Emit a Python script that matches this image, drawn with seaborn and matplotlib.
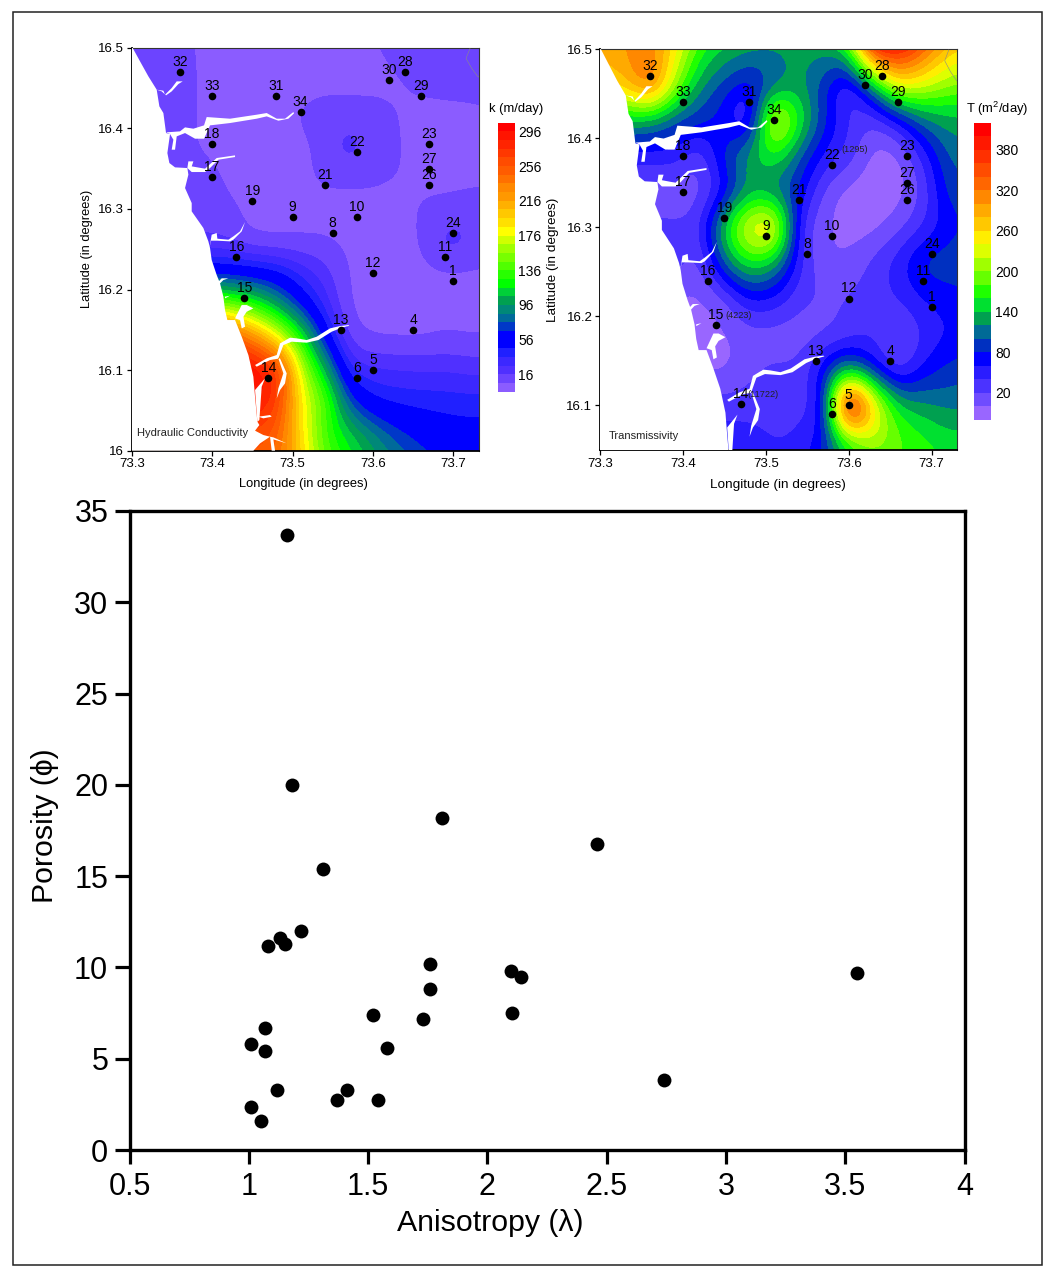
import numpy as np
import pandas as pd
import matplotlib
matplotlib.use("Agg")
import matplotlib.pyplot as plt
from matplotlib.colors import ListedColormap, BoundaryNorm
from matplotlib.patches import Polygon, Rectangle
import seaborn as sns

# bottom panel
anisotropy = [1.16, 1.18, 1.81, 2.46, 1.31, 1.22, 1.13, 1.15, 1.08, 1.76, 2.10, 2.14, 3.55, 1.76,
              2.105, 1.52, 1.73, 1.07, 1.01, 1.07, 1.58, 2.74, 1.12, 1.41, 1.37, 1.54, 1.01, 1.05]
porosity = [33.7, 20.0, 18.2, 16.75, 15.4, 12.0, 11.6, 11.3, 11.15, 10.2, 9.8, 9.5, 9.7, 8.8,
            7.5, 7.4, 7.2, 6.7, 5.8, 5.4, 5.6, 3.85, 3.3, 3.3, 2.75, 2.75, 2.35, 1.6]

# wells
well_id = [32, 33, 31, 34, 30, 28, 29, 23, 22, 18, 27, 26, 17, 21, 19, 9, 10, 8, 24, 16, 11, 12, 1, 15, 13, 4, 5, 6, 14]
well_lon = [73.36, 73.40, 73.48, 73.51, 73.62, 73.64, 73.66, 73.67, 73.58, 73.40, 73.67, 73.67, 73.40, 73.54, 73.45,
            73.50, 73.58, 73.55, 73.70, 73.43, 73.69, 73.60, 73.70, 73.44, 73.56, 73.65, 73.60, 73.58, 73.47]
well_lat = [16.47, 16.44, 16.44, 16.42, 16.46, 16.47, 16.44, 16.38, 16.37, 16.38, 16.35, 16.33, 16.34, 16.33, 16.31,
            16.29, 16.29, 16.27, 16.27, 16.24, 16.24, 16.22, 16.21, 16.19, 16.15, 16.15, 16.10, 16.09, 16.09]
well_lat_T = [16.102 if w == 14 else y for w, y in zip(well_id, well_lat)]

# values, on a coarse lon/lat grid
grid_lon = [73.30, 73.33, 73.36, 73.39, 73.42, 73.45, 73.48, 73.51, 73.54, 73.57, 73.60, 73.63, 73.66, 73.69, 73.72, 73.75]
k_lat = [16.50, 16.46, 16.42, 16.38, 16.34, 16.30, 16.26, 16.22, 16.18, 16.14, 16.10, 16.06, 16.02, 15.98]
k_rows = [
    [10, 10, 10, 3, 3, 3, 3, 3, 3, 3, 5, 9, 10, 10, 12, 14],
    [10, 10, 10, 4, 3, 3, 3, 3, 4, 4, 4, 5, 8, 9, 10, 11],
    [10, 10, 10, 4, 3, 3, 3, 6.5, 8, 8.5, 8, 6, 4, 4, 4, 5],
    [10, 10, 10, 4, 3, 3, 3, 5, 8, 22, 9, 6.5, 4, 4, 4, 5],
    [10, 10, 10, 10, 4, 3, 3, 4, 7.5, 8, 7.5, 6, 4, 3, 3, 4],
    [12, 12, 12, 12, 8, 4, 3, 3, 3, 3, 3, 3, 6.5, 9, 11, 11],
    [18, 18, 18, 18, 16, 8, 7, 7, 6.5, 4, 3, 3, 6, 20, 16, 9],
    [60, 60, 60, 60, 58, 55, 48, 33, 20, 5, 3, 3, 3, 4, 4, 4],
    [160, 160, 160, 160, 150, 130, 100, 63, 32, 6, 3, 3, 3, 3, 3, 3],
    [270, 270, 270, 270, 260, 230, 185, 125, 58, 14, 6, 5, 5, 7, 6, 6],
    [300, 300, 300, 300, 300, 295, 270, 170, 105, 38, 28, 26, 25, 25, 23, 22],
    [290, 290, 290, 290, 290, 285, 268, 185, 140, 75, 50, 44, 42, 41, 40, 40],
    [262, 262, 262, 262, 262, 262, 250, 190, 135, 110, 88, 70, 60, 54, 52, 52],
    [250, 250, 250, 250, 250, 250, 240, 200, 150, 125, 105, 90, 76, 66, 62, 62],
]
t_lat = [16.50, 16.46, 16.42, 16.38, 16.34, 16.30, 16.26, 16.22, 16.18, 16.14, 16.10, 16.06, 16.02]
t_rows = [
    [280, 300, 310, 250, 175, 145, 130, 125, 130, 135, 180, 390, 400, 340, 280, 260],
    [260, 270, 320, 205, 125, 90, 68, 105, 125, 85, 40, 130, 235, 225, 200, 190],
    [135, 135, 130, 100, 85, 70, 40, 235, 160, 85, 40, 25, 60, 110, 130, 135],
    [50, 50, 50, 50, 25, 85, 130, 160, 100, 55, 30, -6, -3, 45, 100, 115],
    [10, 10, 10, 10, 12, 60, 125, 115, 75, 15, -8, -12, -8, 25, 85, 95],
    [25, 25, 25, 25, 35, 145, 235, 245, 45, 5, -8, -6, 12, 40, 70, 85],
    [30, 30, 30, 30, 15, 100, 155, 130, 45, 5, 5, 25, 50, 85, 90, 95],
    [-3, -3, -3, -3, -3, 15, 60, 55, 25, 20, 22, 30, 40, 60, 70, 75],
    [-5, -5, -5, -5, -5, -2, 10, 10, 10, 15, 30, 38, 12, 42, 60, 65],
    [-2, -2, -2, -2, -2, -4, 15, 25, 25, 70, 130, 75, 30, 65, 85, 95],
    [30, 30, 30, 30, 30, 30, 30, 30, 35, 70, 400, 250, 145, 125, 115, 115],
    [50, 50, 50, 50, 50, 50, 50, 40, 45, 75, 170, 210, 185, 165, 150, 150],
    [50, 50, 50, 50, 50, 50, 50, 50, 60, 90, 150, 165, 170, 170, 165, 165],
]

k_levels = list(range(-4, 307, 10))
t_levels = list(range(-20, 421, 20))
k_ticks = [16, 56, 96, 136, 176, 216, 256, 296]
t_ticks = [20, 80, 140, 200, 260, 320, 380]
k_colors = ["#8B5CFF", "#6C44FF", "#5030FF", "#3C28FF", "#2020FF", "#0000FF", "#0000FF", "#0038C8", "#006A9A",
            "#008878", "#00A050", "#00D038", "#00FF00", "#28FF00", "#50FF00", "#78FF00", "#A0FF00", "#D0FF00",
            "#FFFF00", "#FFE000", "#FFC800", "#FFB000", "#FF9800", "#FF8800", "#FF7000", "#FF5C00", "#FF4C00",
            "#FF3800", "#FF2400", "#FF1400", "#FF0000"]
t_colors = ["#9966FF", "#6F4CFF", "#4B33FF", "#2A1CFF", "#0000FF", "#0030C0", "#006A96", "#00A050", "#00E030",
            "#1FFF00", "#66FF00", "#A0FF00", "#DDFF00", "#FFEE00", "#FFC800", "#FFAA00", "#FF8800", "#FF6600",
            "#FF4C00", "#FF3000", "#FF1800", "#FF0000"]

# coast and creeks (sheet units, 2412 per deg lon, 2418 per deg lat)
coast = [(185, 53), (188, 54), (210, 94), (235, 139), (260, 179), (268, 229), (280, 249), (288, 309), (300, 312),
         (292, 369), (298, 399), (315, 412), (352, 414), (355, 434), (345, 474), (365, 519), (365, 544), (400, 594),
         (415, 634), (420, 654), (425, 690), (440, 735), (450, 760), (460, 800), (465, 840), (472, 870), (495, 870),
         (515, 920), (535, 975), (550, 1040), (555, 1100), (562, 1175), (568, 1185), (555, 1202), (580, 1215),
         (600, 1220), (570, 1240), (550, 1262), (185, 1262), (185, 1500), (100, 1500), (100, 53)]
creeks = [
    [(260, 179), (280, 182), (285, 194), (305, 174), (320, 154), (338, 154), (325, 162), (305, 184), (288, 196), (275, 184)],
    [(288, 307), (330, 304), (345, 292), (370, 296), (402, 286), (410, 261), (480, 266), (560, 254), (590, 249), (620, 266),
     (645, 266), (670, 246), (672, 250), (655, 266), (625, 272), (590, 259), (560, 266), (480, 279), (420, 286), (402, 326),
     (375, 326), (345, 309), (320, 319), (315, 359), (305, 359), (310, 329), (300, 312)],
    [(355, 394), (370, 394), (365, 409), (405, 416), (440, 384), (495, 376), (495, 381), (445, 389), (420, 414), (405, 426),
     (365, 426), (352, 414)],
    [(418, 654), (425, 614), (440, 609), (442, 626), (475, 629), (490, 619), (510, 604), (525, 576), (515, 604), (490, 629),
     (480, 634), (442, 632), (423, 632)],
    [(445, 755), (455, 745), (475, 745), (460, 750), (450, 760), (448, 775)],
    [(465, 800), (480, 797), (465, 805)],
    [(495, 865), (515, 825), (530, 825), (550, 835), (530, 845), (520, 860), (525, 890), (515, 895), (510, 870)],
    [(835, 885), (810, 888), (780, 895), (740, 920), (710, 930), (680, 925), (660, 923), (630, 940), (620, 975), (590, 985),
     (555, 1005), (560, 1010), (600, 990), (630, 985), (650, 1030), (645, 1060), (630, 1080), (620, 1105), (625, 1075),
     (640, 1030), (625, 985), (640, 945), (665, 935), (710, 938), (745, 930), (785, 905), (815, 893), (838, 887)],
    [(585, 1045), (575, 1070), (568, 1170), (562, 1175), (555, 1080)],
    [(600, 1220), (605, 1262), (615, 1262), (610, 1228), (650, 1240), (610, 1222)],
    [(565, 1160), (600, 1155), (605, 1160), (580, 1165)],
]
border = [(1200, 55), (1188, 85), (1205, 115), (1222, 138), (1240, 150)]


def sheet_to_lonlat(pts):
    a = np.array(pts, dtype=float)
    return np.column_stack([73.3 + (a[:, 0] - 185) / 2412, 16.5 - (a[:, 1] - 53) / 2418])


def cubic_up(a, n, axis):
    # catmull-rom along one axis, just so the contours are not angular
    a = np.moveaxis(a, axis, 0)
    pad = np.concatenate([a[:1], a, a[-1:]], axis=0)
    out = []
    for i in range(1, len(a)):
        for t in np.arange(n) / n:
            p0, p1, p2, p3 = pad[i - 1], pad[i], pad[i + 1], pad[i + 2]
            out.append(0.5 * (2 * p1 + (p2 - p0) * t + (2 * p0 - 5 * p1 + 4 * p2 - p3) * t ** 2
                              + (3 * p1 - p0 - 3 * p2 + p3) * t ** 3))
    out.append(a[-1])
    return np.moveaxis(np.array(out), 0, axis)


def soften(z, sigma=3.0):
    r = int(3 * sigma)
    kern = np.exp(-0.5 * (np.arange(-r, r + 1) / sigma) ** 2)
    kern /= kern.sum()
    p = np.pad(z, r, mode="edge")
    p = np.apply_along_axis(lambda v: np.convolve(v, kern, mode="same"), 0, p)
    p = np.apply_along_axis(lambda v: np.convolve(v, kern, mode="same"), 1, p)
    return p[r:-r, r:-r]


def refine(vals, n=8):
    return soften(cubic_up(cubic_up(np.array(vals, dtype=float), n, 0), n, 1))


W, H = 1056, 1276


def add_ax(fig, x0, x1, y0, y1):
    return fig.add_axes([x0 / W, 1 - y1 / H, (x1 - x0) / W, (y1 - y0) / H])


sns.set_style("ticks")
plt.rcParams['font.family'] = ['Liberation Sans', 'DejaVu Sans']
plt.rcParams['mathtext.default'] = 'regular'

fig = plt.figure(figsize=(W / 100, H / 100), dpi=100)
fig.add_artist(Rectangle((12.5 / W, 1 - 1265 / H), 1029 / W, 1253 / H, transform=fig.transFigure,
                         fill=False, ec="#222222", lw=1.1))


def draw_map(box, ylim, yticks, ylabels, lat, rows, levels, colors, lons, lats, note, note_xy, deg_px, lab_size, xlab_at, ylab_at):
    ax = add_ax(fig, *box)
    cmap = ListedColormap(colors)
    norm = BoundaryNorm(levels, cmap.N)
    z = np.clip(refine(rows), levels[0] + 0.01, levels[-1] - 0.01)
    xx = cubic_up(np.array(grid_lon), 8, 0)
    yy = cubic_up(np.array(lat), 8, 0)
    cs = ax.contourf(xx, yy, z, levels=levels, cmap=cmap, norm=norm)
    cs.set_edgecolor("face")
    cs.set_linewidth(0.4)
    ax.add_patch(Polygon(sheet_to_lonlat(coast), closed=True, fc="white", ec="none", zorder=3))
    for c in creeks:
        ax.add_patch(Polygon(sheet_to_lonlat(c), closed=True, fc="white", ec="none", zorder=3))
    b = sheet_to_lonlat(border)
    ax.plot(b[:, 0], b[:, 1], color="#8a8a8a", lw=0.4, zorder=3)
    sns.scatterplot(x=lons, y=lats, ax=ax, color="black", s=30, linewidth=0, zorder=5, clip_on=False, legend=False)
    for w, x, y in zip(well_id, lons, lats):
        ax.annotate(str(w), (x, y), xytext=(0, 2.2), textcoords="offset points", ha="center", va="bottom",
                    fontsize=10, color="black", zorder=6)
    ax.set_xlim(73.3, 73.3 + (box[1] - box[0]) / deg_px)
    ax.set_ylim(*ylim)
    ax.set_xticks([73.3, 73.4, 73.5, 73.6, 73.7])
    ax.set_xticklabels(["73.3", "73.4", "73.5", "73.6", "73.7"])
    ax.set_yticks(yticks)
    ax.set_yticklabels(ylabels)
    ax.tick_params(length=3.5, width=0.9, labelsize=9.5, pad=2, color="black", labelcolor="black")
    for s in ["left", "bottom"]:
        ax.spines[s].set_linewidth(1.3)
        ax.spines[s].set_color("black")
    for s in ["top", "right"]:
        ax.spines[s].set_visible(True)
        ax.spines[s].set_linewidth(0.8)
        ax.spines[s].set_color("#333333")
    ax.set_xlabel("Longitude (in degrees)", fontsize=lab_size, color="black", va="center")
    ax.xaxis.set_label_coords(xlab_at[0] / W, 1 - xlab_at[1] / H, transform=fig.transFigure)
    ax.set_ylabel("Latitude (in degrees)", fontsize=lab_size, color="black", va="center")
    ax.yaxis.set_label_coords(ylab_at[0] / W, 1 - ylab_at[1] / H, transform=fig.transFigure)
    ax.text(note_xy[0], note_xy[1], note, fontsize=8, color="#222222", va="center", zorder=6)
    return ax


def draw_bar(box, levels, colors, ticks, title, title_x, pad):
    ax = add_ax(fig, *box)
    cmap = ListedColormap(colors)
    norm = BoundaryNorm(levels, cmap.N)
    ax.pcolormesh([0, 1], levels, np.array(levels[:-1], dtype=float).reshape(-1, 1) + 1, cmap=cmap, norm=norm)
    ax.set_xticks([])
    ax.yaxis.tick_right()
    ax.set_yticks(ticks)
    ax.tick_params(length=0, labelsize=10, pad=pad, labelcolor="black")
    sns.despine(ax=ax, left=True, bottom=True, right=True, top=True)
    fig.text(title_x / W, 1 - 109 / H, title, fontsize=9.4, ha="center", va="center", color="black")


ax1 = draw_map((131.7, 478.7, 47.7, 450.7), (16.0, 16.5), [16.0, 16.1, 16.2, 16.3, 16.4, 16.5],
               ["16", "16.1", "16.2", "16.3", "16.4", "16.5"], k_lat, k_rows, k_levels, k_colors,
               well_lon, well_lat, "Hydraulic Conductivity", (73.306, 16.022), 804, 9.3, (303, 484), (87, 249))
ax2 = draw_map((600, 957.3, 49, 450), (16.05, 16.5), [16.1, 16.2, 16.3, 16.4, 16.5],
               ["16.1", "16.2", "16.3", "16.4", "16.5"], t_lat, t_rows, t_levels, t_colors,
               well_lon, well_lat_T, "Transmissivity", (73.31, 16.066), 829, 9.7, (778, 485), (553, 260))
for lon, lat, txt, dx, dy in [(73.58, 16.37, "(1295)", 7, 8), (73.44, 16.19, "(4223)", 7, 3.7),
                              (73.47, 16.102, "(11722)", 4.4, 3)]:
    ax2.annotate(txt, (lon, lat), xytext=(dx, dy), textcoords="offset points", fontsize=6.6,
                 ha="left", va="bottom", color="#222222", zorder=6)

draw_bar((498.3, 515, 122.7, 391.7), k_levels, k_colors, k_ticks, "k (m/day)", 515.7, 2.2)
draw_bar((974, 991, 122.7, 420), t_levels, t_colors, t_ticks, r"T (m$^{2}$/day)", 996.7, 3)

# porosity vs anisotropy
df = pd.DataFrame({"Anisotropy": anisotropy, "Porosity": porosity})
ax3 = add_ax(fig, 129.5, 964.5, 511, 1150)
sns.scatterplot(data=df, x="Anisotropy", y="Porosity", ax=ax3, color="black", s=100, linewidth=0, zorder=4)
ax3.set_xlim(0.5, 4)
ax3.set_ylim(0, 35)
ax3.set_xticks([0.5, 1, 1.5, 2, 2.5, 3, 3.5, 4])
ax3.set_xticklabels(["0.5", "1", "1.5", "2", "2.5", "3", "3.5", "4"])
ax3.set_yticks(range(0, 36, 5))
ax3.tick_params(axis="x", length=10, width=2.3, labelsize=22, pad=6, color="black", labelcolor="black")
ax3.tick_params(axis="y", length=10.8, width=2.3, labelsize=22, pad=4.5, color="black", labelcolor="black")
for s in ax3.spines.values():
    s.set_visible(True)
    s.set_linewidth(2.4)
    s.set_color("black")
ax3.set_xlabel("Anisotropy (λ)", fontsize=21.8, color="black")
ax3.xaxis.set_label_coords((490 - 129.5) / 835, -(1223 - 1150) / 639, transform=ax3.transAxes)
ax3.xaxis.label.set_va("center")
ax3.set_ylabel("Porosity (ϕ)", fontsize=21.8, color="black")
ax3.yaxis.set_label_coords(-(129.5 - 45) / 835, (1150 - 826) / 639, transform=ax3.transAxes)
ax3.yaxis.label.set_va("center")

fig.savefig("out.png", dpi=100, facecolor="white")
